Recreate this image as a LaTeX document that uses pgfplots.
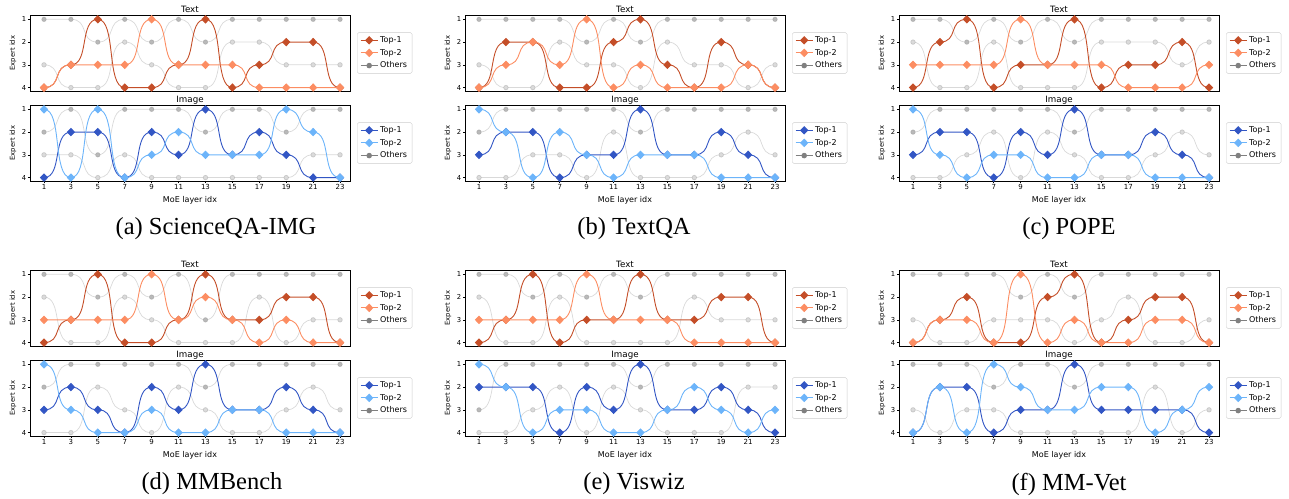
\documentclass[border=0pt]{standalone}
\usepackage{fontspec}
\setmainfont{DejaVu Sans}
\newfontfamily\capfont{Liberation Serif}
\usepackage{pgfplots}
\pgfplotsset{compat=1.18}
\usepackage{pgfplotstable}

% S-shaped steps between layers: horizontal tangent at every point
\makeatletter
\newif\ifhc@first
\def\hc@point#1{%
  \pgf@process{#1}%
  \edef\hc@x{\the\pgf@x}\edef\hc@y{\the\pgf@y}%
  \ifhc@first
    \pgfpathmoveto{\pgfqpoint{\hc@x}{\hc@y}}%
    \global\hc@firstfalse
  \else
    \edef\hc@ax{\the\dimexpr\hc@lastx+(\hc@x-\hc@lastx)*7/10\relax}%
    \edef\hc@bx{\the\dimexpr\hc@x-(\hc@x-\hc@lastx)*7/10\relax}%
    \pgfpathcurveto{\pgfqpoint{\hc@ax}{\hc@lasty}}{\pgfqpoint{\hc@bx}{\hc@y}}{\pgfqpoint{\hc@x}{\hc@y}}%
  \fi
  \global\let\hc@lastx\hc@x
  \global\let\hc@lasty\hc@y}
\pgfdeclareplothandler{\pgfplothandlerhcurve}{}{%
  start=\global\hc@firsttrue,
  point macro=\hc@point,
  jump=\global\hc@firsttrue}
\tikzset{hcurve/.code={\let\tikz@plot@handler=\pgfplothandlerhcurve}}
\makeatother

\definecolor{tone}{RGB}{196,78,40}
\definecolor{ttwo}{RGB}{252,141,98}
\definecolor{ione}{RGB}{50,86,196}
\definecolor{itwo}{RGB}{108,180,250}

% L = MoE layer, T1/T2 = top-1/top-2 expert, A/B = other experts
\pgfplotstableread{
L T1 T2 A B
1 4 4 1 3
3 3 3 1 4
5 1 3 2 4
7 4 3 1 2
9 4 1 2 3
11 3 3 1 4
13 1 3 2 4
15 4 3 1 2
17 3 4 1 2
19 2 4 1 3
21 2 4 1 3
23 4 4 1 3
}\aT
\pgfplotstableread{
L T1 T2 A B
1 4 1 2 3
3 2 4 1 3
5 2 1 3 4
7 4 4 1 3
9 2 3 1 4
11 3 2 1 4
13 1 3 2 4
15 3 3 1 4
17 2 3 1 4
19 3 1 2 4
21 4 2 1 3
23 4 4 1 3
}\aI
\pgfplotstableread{
L T1 T2 A B
1 4 4 1 3
3 2 3 1 4
5 2 2 1 4
7 4 3 1 2
9 4 1 2 3
11 2 4 1 3
13 1 3 2 4
15 3 4 1 2
17 4 4 1 3
19 2 4 1 3
21 3 3 1 4
23 4 4 1 3
}\bT
\pgfplotstableread{
L T1 T2 A B
1 3 1 2 4
3 2 2 1 4
5 2 4 1 3
7 4 2 1 3
9 3 3 1 4
11 3 4 1 2
13 1 3 2 4
15 3 3 1 4
17 3 3 1 4
19 2 4 1 3
21 3 4 1 2
23 4 4 1 3
}\bI
\pgfplotstableread{
L T1 T2 A B
1 4 3 1 2
3 2 3 1 4
5 1 3 2 4
7 4 3 1 2
9 3 1 2 4
11 3 3 1 4
13 1 3 2 4
15 4 3 1 2
17 3 4 1 2
19 3 4 1 2
21 2 4 1 3
23 4 3 1 2
}\cT
\pgfplotstableread{
L T1 T2 A B
1 3 1 2 4
3 2 3 1 4
5 2 4 1 3
7 4 3 1 2
9 2 3 1 4
11 3 4 1 2
13 1 4 2 3
15 3 3 1 4
17 3 3 1 4
19 2 4 1 3
21 3 4 1 2
23 4 4 1 3
}\cI
\pgfplotstableread{
L T1 T2 A B
1 4 3 1 2
3 3 3 1 4
5 1 3 2 4
7 4 3 1 2
9 4 1 2 3
11 3 3 1 4
13 1 2 3 4
15 3 3 1 4
17 3 4 1 2
19 2 3 1 4
21 2 4 1 3
23 4 4 1 3
}\dT
\pgfplotstableread{
L T1 T2 A B
1 3 1 2 4
3 2 3 1 4
5 3 4 1 2
7 4 4 1 3
9 2 3 1 4
11 3 4 1 2
13 1 4 2 3
15 3 3 1 4
17 3 3 1 4
19 2 4 1 3
21 3 4 1 2
23 4 4 1 3
}\dI
\pgfplotstableread{
L T1 T2 A B
1 4 3 1 2
3 3 3 1 4
5 1 3 2 4
7 4 3 1 2
9 3 1 2 4
11 3 3 1 4
13 1 3 2 4
15 3 3 1 4
17 3 4 1 2
19 2 4 1 3
21 2 4 1 3
23 4 4 1 3
}\eT
\pgfplotstableread{
L T1 T2 A B
1 2 1 3 4
3 2 2 1 4
5 2 4 1 3
7 4 3 1 2
9 2 3 1 4
11 3 4 1 2
13 1 4 2 3
15 3 3 1 4
17 3 2 1 4
19 2 3 1 4
21 3 4 1 2
23 4 3 1 2
}\eI
\pgfplotstableread{
L T1 T2 A B
1 4 4 1 3
3 3 3 1 4
5 2 3 1 4
7 4 4 1 3
9 4 1 2 3
11 2 4 1 3
13 1 3 2 4
15 4 4 1 3
17 3 4 1 2
19 2 3 1 4
21 2 3 1 4
23 4 4 1 3
}\fT
\pgfplotstableread{
L T1 T2 A B
1 4 4 1 3
3 2 2 1 4
5 2 4 1 3
7 4 1 2 3
9 3 2 1 4
11 3 3 1 4
13 1 3 2 4
15 3 2 1 4
17 3 2 1 4
19 3 4 1 2
21 3 3 1 4
23 4 2 1 3
}\fI

\pgfplotsset{
  panel/.style={
    width=320pt, height=76pt, scale only axis, anchor=north west,
    xmin=-0.04, xmax=23.74, ymin=0.81, ymax=4.15, y dir=reverse,
    ytick={1,2,3,4}, ytick pos=left, xtick pos=bottom,
    tick align=outside, major tick length=2pt,
    tick style={black, line width=0.6pt},
    axis line style={line width=1pt},
    /pgf/number format/assume math mode=true,
    xticklabel style={font=\fontsize{7}{8}\selectfont, inner sep=1pt},
    yticklabel style={font=\fontsize{6.8}{8}\selectfont, inner sep=1.5pt},
    ylabel={Expert idx},
    every axis y label/.style={at={(axis description cs:-0.053,0.5)}, rotate=90, anchor=center, font=\fontsize{6.8}{8}\selectfont},
    every axis x label/.style={at={(axis description cs:0.5,-0.25)}, anchor=center, font=\fontsize{8}{9}\selectfont},
    every axis title/.style={at={(axis description cs:0.5,1)}, anchor=base, yshift=3pt, inner sep=0pt, font=\fontsize{8.7}{10}\selectfont},
    legend style={at={(1,0.5)}, anchor=west, xshift=7pt, draw=black!20, rounded corners=1.5pt,
      font=\fontsize{8}{9}\selectfont, row sep=1.2pt, inner ysep=2pt},
    legend cell align=left,
  },
  top/.style={hcurve, line width=0.9pt, mark=diamond*, mark size=3.6pt, mark options={xscale=1.3}},
  others/.style={hcurve, color=gray, draw opacity=0.3, line width=0.7pt, mark=*, mark size=2.3pt,
    mark options={draw=none, fill=#1}},
}

\newcommand\panel[7]{%
\begin{axis}[panel, at={(#1pt,-#2pt)}, title={#4}, #7]
  \addplot[others=gray!28, forget plot] table[x=L, y=B]{#3};
  \addplot[others=gray!55, forget plot] table[x=L, y=A]{#3};
  \addplot[top, color=#5] table[x=L, y=T1]{#3};
  \addplot[top, color=#6] table[x=L, y=T2]{#3};
  \addlegendimage{color=gray, line width=0.9pt, mark=*, mark size=2.3pt, mark options={draw=none, fill=gray}}
  \legend{Top-1,Top-2,Others}
\end{axis}}

\begin{document}
\begin{tikzpicture}
\useasboundingbox (0pt,0pt) rectangle (1289pt,-498pt);
\panel{30}{15}{\aT}{Text}{tone}{ttwo}{xtick=\empty}
\panel{30}{105}{\aI}{Image}{ione}{itwo}{xtick={1,3,...,23}, xlabel={MoE layer idx}}
\panel{465}{15}{\bT}{Text}{tone}{ttwo}{xtick=\empty}
\panel{465}{105}{\bI}{Image}{ione}{itwo}{xtick={1,3,...,23}, xlabel={MoE layer idx}}
\panel{899}{15}{\cT}{Text}{tone}{ttwo}{xtick=\empty}
\panel{899}{105}{\cI}{Image}{ione}{itwo}{xtick={1,3,...,23}, xlabel={MoE layer idx}}
\panel{30}{270}{\dT}{Text}{tone}{ttwo}{xtick=\empty}
\panel{30}{360}{\dI}{Image}{ione}{itwo}{xtick={1,3,...,23}, xlabel={MoE layer idx}}
\panel{465}{270}{\eT}{Text}{tone}{ttwo}{xtick=\empty}
\panel{465}{360}{\eI}{Image}{ione}{itwo}{xtick={1,3,...,23}, xlabel={MoE layer idx}}
\panel{899}{270}{\fT}{Text}{tone}{ttwo}{xtick=\empty}
\panel{899}{360}{\fI}{Image}{ione}{itwo}{xtick={1,3,...,23}, xlabel={MoE layer idx}}
\node[font=\capfont\fontsize{24.5}{27}\selectfont] at (216pt,-229pt) {(a) ScienceQA-IMG};
\node[font=\capfont\fontsize{24.5}{27}\selectfont] at (634pt,-229pt) {(b) TextQA};
\node[font=\capfont\fontsize{24.5}{27}\selectfont] at (1069pt,-229pt) {(c) POPE};
\node[font=\capfont\fontsize{24.5}{27}\selectfont] at (212pt,-484pt) {(d) MMBench};
\node[font=\capfont\fontsize{24.5}{27}\selectfont] at (634pt,-484pt) {(e) Viswiz};
\node[font=\capfont\fontsize{24.5}{27}\selectfont] at (1069pt,-484pt) {(f) MM-Vet};
\end{tikzpicture}
\end{document}
